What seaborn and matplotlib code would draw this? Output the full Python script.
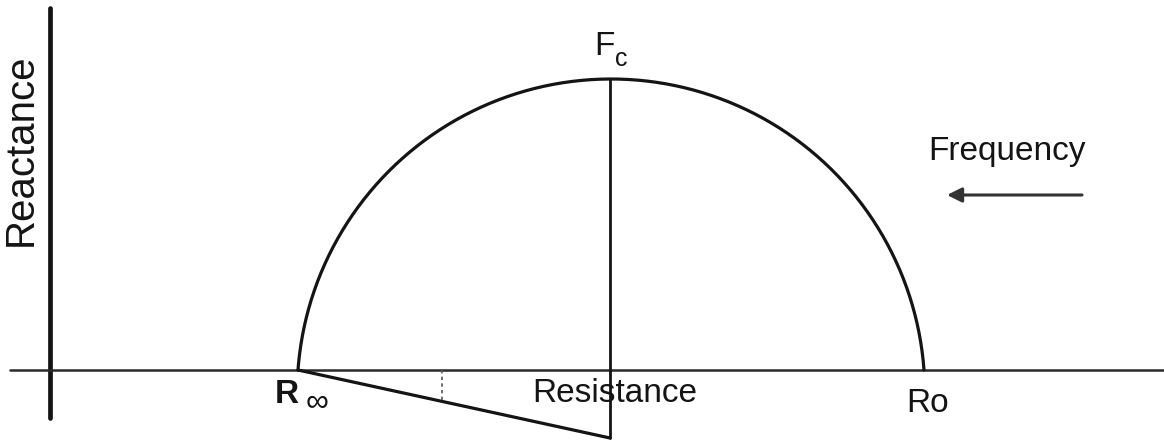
import numpy as np
import pandas as pd
import matplotlib
matplotlib.use("Agg")
import matplotlib.pyplot as plt
import seaborn as sns

sns.set_theme(style="white")
plt.rcParams['font.family'] = ['Liberation Sans', 'DejaVu Sans']

# ---- data (diagram units: resistance along x, reactance along y) ----
r_inf = 248.0        # R-infinity on the resistance axis
r_zero = 874.0       # Ro on the resistance axis
fc_x = 560.0         # resistance at characteristic frequency
xc_peak = 291.0      # reactance at Fc (top of arc)
fc_drop = -68.0      # lower end of the Fc line below the axis
angle_mark_x = 392.0 # position of the small dotted mark

axis_x_range = [-40.0, 1114.0]
axis_y_range = [-48.0, 362.0]

labels_text = {"x": "Resistance", "y": "Reactance", "freq": "Frequency"}

INK = "#141414"

fig = plt.figure(figsize=(11.64, 4.42), dpi=100)
ax = fig.add_axes([0, 0, 1, 1])
ax.set_xlim(-50, 1114)
ax.set_ylim(-72, 370)
ax.axis("off")

def seg(xs, ys, **kw):
    df = pd.DataFrame({"x": xs, "y": ys})
    sns.lineplot(data=df, x="x", y="y", estimator=None, sort=False, ax=ax,
                 legend=False, **kw)

# axes
seg([0, 0], axis_y_range, color=INK, lw=3.4)
seg(axis_x_range, [0, 0], color="#2a2a2a", lw=1.8)

# depressed semicircle through R_inf, R0 and peak
half = (r_zero - r_inf) / 2.0
cx = (r_zero + r_inf) / 2.0
d = (half ** 2 - xc_peak ** 2) / (2 * xc_peak)
rad = xc_peak + d
th0 = np.arcsin(d / rad)
th = np.linspace(th0, np.pi - th0, 300)
seg(cx + rad * np.cos(th), -d + rad * np.sin(th), color=INK, lw=2.3)

# Fc vertical line
seg([fc_x, fc_x], [xc_peak, fc_drop], color=INK, lw=2.0)
# sloped line from R_inf
seg([r_inf, fc_x], [0, fc_drop], color=INK, lw=2.3)
# dotted angle mark
mark_y = fc_drop * (angle_mark_x - r_inf) / (fc_x - r_inf)
seg([angle_mark_x, angle_mark_x], [0, mark_y], color="#555555", lw=1.2,
    linestyle=(0, (2, 2)))

# arrow
ax.annotate("", xy=(897, 175), xytext=(1032, 175),
            arrowprops=dict(arrowstyle="-|>", color="#333333", lw=2.2,
                            mutation_scale=22, shrinkA=0, shrinkB=0))

fs = 24
ax.text(957, 210, labels_text["freq"], ha="center", va="baseline",
        fontsize=fs, color=INK)
ax.text(565, -32, labels_text["x"], ha="center", va="baseline",
        fontsize=fs, color=INK)
ax.text(878, -42, "Ro", ha="center", va="baseline", fontsize=fs, color=INK)
ax.text(237, -33, "R", ha="center", va="baseline", fontsize=fs,
        fontweight="bold", color=INK)
ax.text(267, -41, "\u221e", ha="center", va="baseline", fontsize=23,
        color=INK)
ax.text(554, 315, "F", ha="center", va="baseline", fontsize=fs, color=INK)
ax.text(571, 304, "c", ha="center", va="baseline", fontsize=18, color=INK)
ax.text(-18, 220, labels_text["y"], ha="center", va="baseline",
        rotation=90, rotation_mode="anchor", fontsize=29, color=INK)

fig.savefig("out.png", dpi=100)
